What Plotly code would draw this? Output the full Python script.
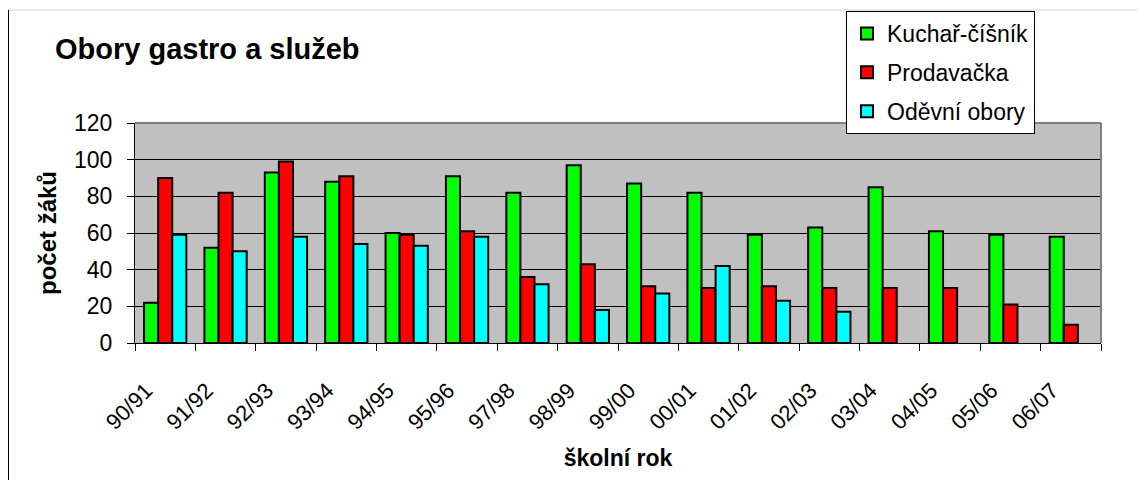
import plotly.graph_objects as go

years = ["90/91", "91/92", "92/93", "93/94", "94/95", "95/96", "97/98", "98/99",
         "99/00", "00/01", "01/02", "02/03", "03/04", "04/05", "05/06", "06/07"]
kuchar = [22, 52, 93, 88, 60, 91, 82, 97, 87, 82, 59, 63, 85, 61, 59, 58]
prodavacka = [90, 82, 99, 91, 59, 61, 36, 43, 31, 30, 31, 30, 30, 30, 21, 10]
odevni = [59, 50, 58, 54, 53, 58, 32, 18, 27, 42, 23, 17, None, None, None, None]
y_ticks = [0, 20, 40, 60, 80, 100, 120]

FONT = "Liberation Sans, Arial, sans-serif"

fig = go.Figure()
for name, vals, col in [("Kuchař-číšník", kuchar, "#00FF00"),
                        ("Prodavačka", prodavacka, "#FF0000"),
                        ("Oděvní obory", odevni, "#00FFFF")]:
    fig.add_trace(go.Bar(x=years, y=vals, name=name, legendgroup=name,
                         marker=dict(color=col, line=dict(color="black", width=2))))

OFF = 8  # page body margin
W, H = 1129, 472
L = 135 - OFF
T = 123 - OFF
R = W - (1101 - OFF)
B = H - (343 - OFF)
pw, ph = W - L - R, H - T - B

def px_x(p):  # page px -> paper
    return (p - OFF - L) / pw

def px_y(p):
    return (343 - p) / ph

fig.update_layout(
    width=W, height=H,
    margin=dict(l=L, r=R, t=T, b=B, autoexpand=False),
    paper_bgcolor="white",
    plot_bgcolor="#C0C0C0",
    barmode="group",
    bargap=0.3,
    bargroupgap=0,
    font=dict(family=FONT, color="black", size=18),
    title=dict(text="<b>Obory gastro a služeb</b>", x=(55 - OFF) / W, xanchor="left",
               y=1 - (49 - OFF) / H, yanchor="middle", yref="container",
               font=dict(size=29, family=FONT, color="black")),
    legend=dict(x=px_x(846), y=px_y(11), xanchor="left", yanchor="top",
                bgcolor="white", bordercolor="black", borderwidth=1,
                font=dict(size=23, family=FONT, color="black"),
                traceorder="grouped", tracegroupgap=6, itemwidth=30,
                itemsizing="constant"),
    xaxis=dict(
        title=dict(text="<b>školní rok</b>", font=dict(size=23, family=FONT), standoff=16),
        tickangle=-45, tickfont=dict(size=22, family=FONT),
        ticklabelstandoff=25, ticklabelshift=-19,
        ticks="outside", ticklen=7, tickcolor="black", tickson="boundaries",
        showline=True, linecolor="black", linewidth=1, showgrid=False,
    ),
    yaxis=dict(
        title=dict(text="<b>počet žáků</b>", font=dict(size=24, family=FONT), standoff=10),
        range=[0, 120], tickvals=y_ticks, tickfont=dict(size=23, family=FONT),
        ticklabelstandoff=10,
        ticks="outside", ticklen=7, tickcolor="black",
        showline=True, linecolor="black", linewidth=1,
        showgrid=True, gridcolor="black", gridwidth=1, zeroline=False,
    ),
    shapes=[
        dict(type="line", xref="paper", yref="paper", x0=0, x1=1, y0=1, y1=1,
             line=dict(color="#808080", width=2), layer="above"),
        dict(type="line", xref="paper", yref="paper", x0=1, x1=1, y0=0, y1=1,
             line=dict(color="#808080", width=2), layer="above"),
        dict(type="line", xref="paper", yref="paper", x0=px_x(8), x1=px_x(1147), y0=px_y(10), y1=px_y(10),
             line=dict(color="#D0D0D0", width=1)),
        dict(type="line", xref="paper", yref="paper", x0=px_x(8.5), x1=px_x(8.5), y0=px_y(10), y1=px_y(482),
             line=dict(color="black", width=1)),
    ],
)

fig.write_html("out.html")
